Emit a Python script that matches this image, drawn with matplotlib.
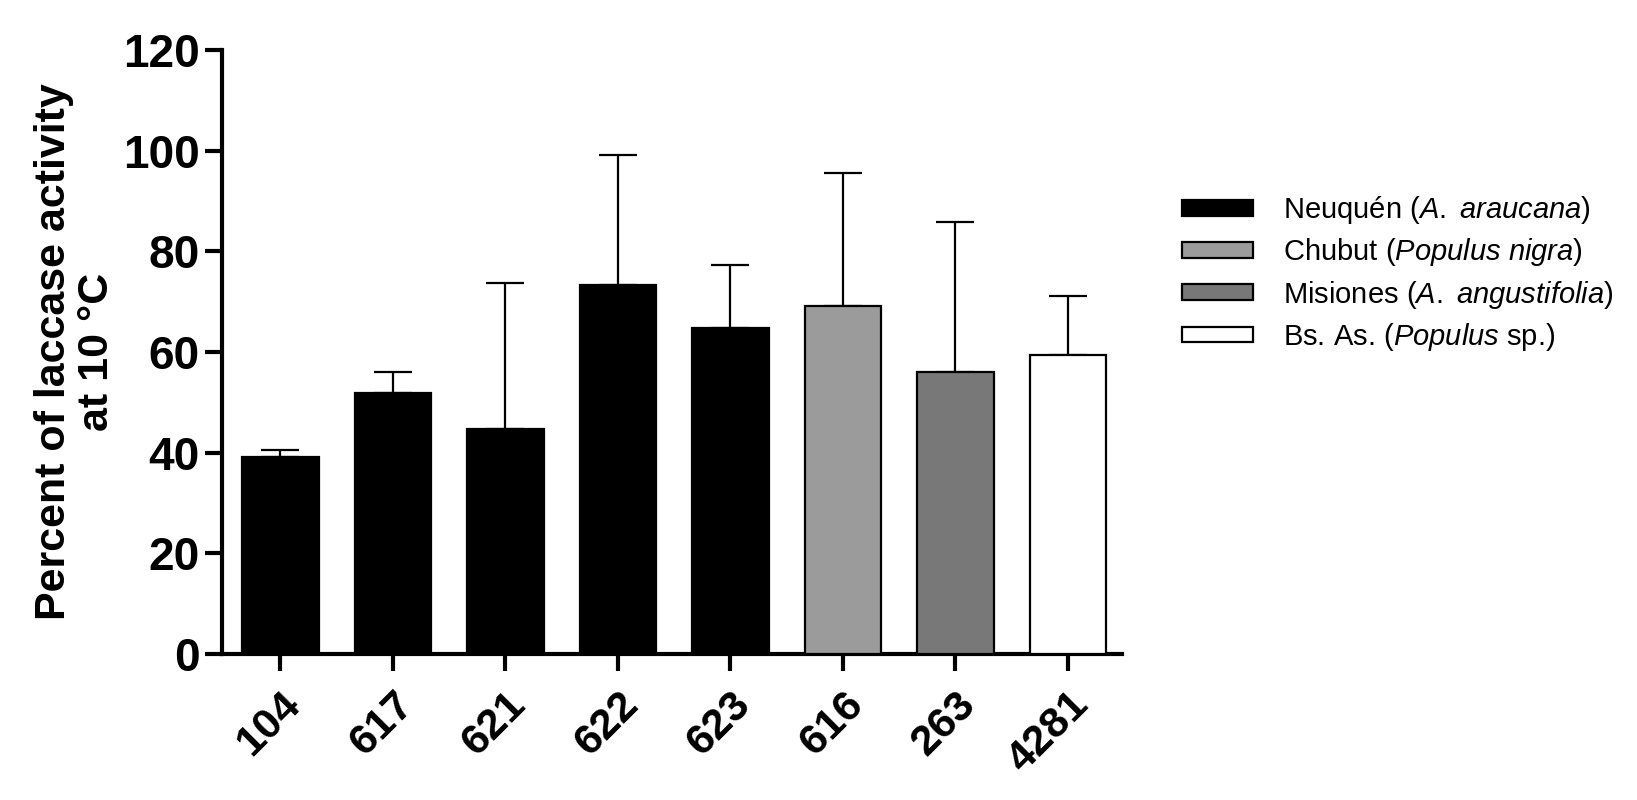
import numpy as np
import matplotlib
matplotlib.use("Agg")
import matplotlib.pyplot as plt

plt.rcParams.update({
    "font.family": ["Liberation Sans", "DejaVu Sans"],
    "mathtext.fontset": "custom",
    "mathtext.rm": "Liberation Sans",
    "mathtext.it": "Liberation Sans:italic",
})

# strains, mean activity and upper error
strains = ["104", "617", "621", "622", "623", "616", "263", "4281"]
activity = [39.2, 51.9, 44.8, 73.4, 64.7, 69.1, 56.1, 59.5]
error_up = [1.4, 4.1, 29.0, 25.7, 12.5, 26.5, 29.8, 11.7]
origin = ["Neuquén", "Neuquén", "Neuquén", "Neuquén", "Neuquén",
          "Chubut", "Misiones", "Bs. As."]

origin_colors = {
    "Neuquén": "#000000",
    "Chubut": "#9b9b9b",
    "Misiones": "#787878",
    "Bs. As.": "#ffffff",
}
origin_labels = {
    "Neuquén": r"Neuquén ($\mathit{A.}$ $\mathit{araucana}$)",
    "Chubut": r"Chubut ($\mathit{Populus}$ $\mathit{nigra}$)",
    "Misiones": r"Misiones ($\mathit{A.}$ $\mathit{angustifolia}$)",
    "Bs. As.": r"Bs. As. ($\mathit{Populus}$ sp.)",
}


def main():
    fig = plt.figure(figsize=(16.37, 8), dpi=100)
    ax = fig.add_axes([0.1356, 0.1825, 0.5498, 0.755])

    x = np.arange(len(strains))
    colors = [origin_colors[o] for o in origin]
    ax.bar(x, activity, width=0.68, color=colors, edgecolor="black",
           linewidth=1.6, zorder=3)
    ax.errorbar(x, activity, yerr=[np.zeros(len(x)), error_up], fmt="none",
                ecolor="black", elinewidth=1.6, capsize=14, capthick=1.6,
                zorder=2)

    ax.set_xlim(-0.52, 7.48)
    ax.set_ylim(0, 120)
    ax.set_yticks(np.arange(0, 121, 20))
    ax.set_xticks(x)
    ax.set_xticklabels(strains, rotation=45, ha="right", va="top",
                       rotation_mode="anchor", fontsize=31, fontweight="bold")
    for lab in ax.get_yticklabels():
        lab.set_fontsize(33)
        lab.set_fontweight("bold")

    for side in ["top", "right"]:
        ax.spines[side].set_visible(False)
    for side in ["left", "bottom"]:
        ax.spines[side].set_linewidth(3)
    ax.tick_params(axis="both", direction="out", length=12, width=3, pad=4)
    ax.tick_params(axis="x", pad=10)

    ax.set_ylabel("Percent of laccase activity\nat 10 °C", fontsize=31,
                  fontweight="bold", linespacing=1.1)
    ax.yaxis.set_label_coords(-0.117, 0.5)

    # legend, one entry per origin
    handles = []
    for o in origin_colors:
        handles.append(plt.Rectangle((0, 0), 1, 1, facecolor=origin_colors[o],
                                     edgecolor="black", linewidth=1.6))
    fig.legend(handles, [origin_labels[o] for o in origin_colors],
               loc="upper left", bbox_to_anchor=(0.706, 0.79), frameon=False,
               fontsize=21, handlelength=2.45, handleheight=0.45,
               handletextpad=1.0, labelspacing=0.35)

    fig.savefig("out.png", dpi=100)


if __name__ == "__main__":
    main()
